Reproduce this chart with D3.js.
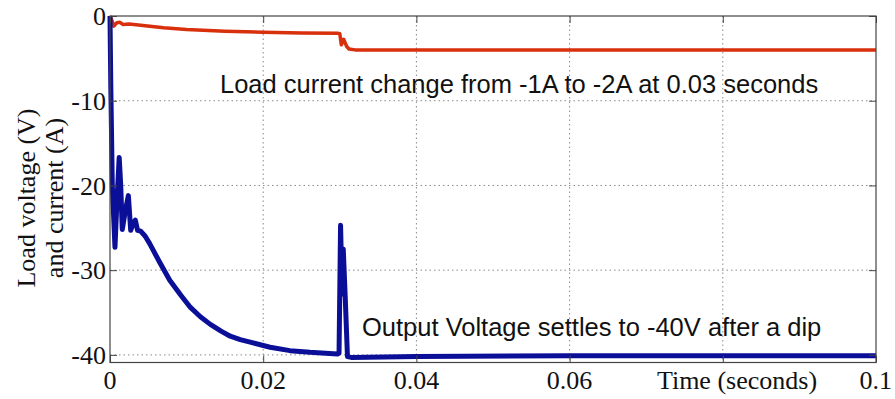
<!DOCTYPE html>
<html>
<head>
<meta charset="utf-8">
<script src="https://cdn.jsdelivr.net/npm/d3@7"></script>
<style>
  html, body { margin: 0; padding: 0; background: #fff; }
  svg { display: block; }
  .grid line { stroke: #8a8a8a; stroke-width: 1; stroke-dasharray: 1.5 3; }
  .tick-label { font-family: "Liberation Serif", "Times New Roman", serif; font-size: 26px; fill: #111; }
  .note { font-family: "Liberation Sans", Arial, sans-serif; font-size: 25.5px; fill: #111; }
</style>
</head>
<body>
<div id="chart"></div>
<script>
// 电压曲线 (V)
var timeV = [0, 0.0001, 0.0003, 0.00065, 0.0009, 0.0012, 0.0014, 0.0016, 0.002, 0.0024,
             0.0027, 0.003, 0.0033, 0.0036, 0.004, 0.0046, 0.0052, 0.0065, 0.0078, 0.0092,
             0.0105, 0.0118, 0.0131, 0.0145, 0.0157, 0.017, 0.0183, 0.0209, 0.0235, 0.0261,
             0.0297, 0.0299, 0.0301, 0.0303, 0.03045, 0.0307, 0.031, 0.0315, 0.04, 0.06, 0.08, 0.1];
var voltage = [0, -8, -20, -27.3, -22, -16.7, -20, -25.2, -23, -21.2,
               -25.3, -24.5, -24.1, -25.3, -25.4, -26, -26.9, -29.1, -31.2, -32.9,
               -34.4, -35.5, -36.4, -37.2, -37.8, -38.2, -38.5, -39.1, -39.5, -39.7,
               -39.9, -39.8, -24.7, -32.8, -27.5, -33, -40.2, -40.3, -40.2, -40.1, -40.1, -40.1];
// 电流曲线 (A)
var timeI = [0, 0.0002, 0.0005, 0.0009, 0.0013, 0.0017, 0.0025, 0.004, 0.007, 0.01,
             0.015, 0.02, 0.025, 0.0298, 0.03, 0.0302, 0.0305, 0.0309, 0.0312, 0.032, 0.1];
var current = [0, -0.4, -1.2, -0.8, -0.75, -1.0, -0.95, -1.1, -1.4, -1.6,
               -1.8, -1.92, -2.0, -2.05, -2.1, -3.4, -2.75, -3.6, -3.9, -4.0, -4.0];

var xTicks = [0, 0.02, 0.04, 0.06, 0.08, 0.1];
var xTickLabels = ['0', '0.02', '0.04', '0.06', '', '0.1'];
var yTicks = [0, -10, -20, -30, -40];
var yTickLabels = ['0', '-10', '-20', '-30', '-40'];
var xTitle = 'Time (seconds)';
var yTitle = ['Load voltage (V)', 'and current (A)'];
var noteCurrent = 'Load current change from -1A to -2A at 0.03 seconds';
var noteVoltage = 'Output Voltage settles to -40V after a dip';

var width = 895, height = 399;
var pLeft = 110, pRight = 876, pTop = 16, pBottom = 362.5;

var svg = d3.select('#chart').append('svg')
    .attr('width', width)
    .attr('height', height);

var x = d3.scaleLinear().domain([0, 0.1]).range([pLeft, pRight]);
var y = d3.scaleLinear().domain([-40.9, 0]).range([pBottom, pTop]);

// 网格
var grid = svg.append('g').classed('grid', true);
grid.selectAll('line.gy')
    .data(yTicks.filter(function(d) { return d !== 0; }))
    .enter().append('line')
    .attr('class', 'gy')
    .attr('x1', pLeft).attr('x2', pRight)
    .attr('y1', function(d) { return y(d); })
    .attr('y2', function(d) { return y(d); });
grid.selectAll('line.gx')
    .data(xTicks.filter(function(d) { return d !== 0 && d !== 0.1; }))
    .enter().append('line')
    .attr('class', 'gx')
    .attr('y1', pTop).attr('y2', pBottom)
    .attr('x1', function(d) { return x(d); })
    .attr('x2', function(d) { return x(d); });

// 曲线
var lineV = d3.line()
    .x(function(d, i) { return x(timeV[i]); })
    .y(function(d) { return y(d); });
var lineI = d3.line()
    .x(function(d, i) { return x(timeI[i]); })
    .y(function(d) { return y(d); });

svg.append('path')
    .datum(current)
    .attr('d', lineI)
    .attr('fill', 'none')
    .attr('stroke', '#d8300c')
    .attr('stroke-width', 3.5)
    .attr('stroke-linejoin', 'round');

svg.append('path')
    .datum(voltage)
    .attr('d', lineV)
    .attr('fill', 'none')
    .attr('stroke', '#0b0f98')
    .attr('stroke-width', 5)
    .attr('stroke-linejoin', 'round');

// 坐标轴 (刻度朝内)
var axisColor = '#444';
function styleAxis(g) {
    g.select('.domain').remove();
    g.selectAll('line').attr('stroke', axisColor);
}
svg.append('g')
    .attr('transform', 'translate(0,' + pBottom + ')')
    .call(d3.axisBottom(x).tickValues(xTicks).tickSize(-7).tickFormat(''))
    .call(styleAxis);
svg.append('g')
    .attr('transform', 'translate(0,' + pTop + ')')
    .call(d3.axisTop(x).tickValues(xTicks).tickSize(-7).tickFormat(''))
    .call(styleAxis);
svg.append('g')
    .attr('transform', 'translate(' + pLeft + ',0)')
    .call(d3.axisLeft(y).tickValues(yTicks).tickSize(-7).tickFormat(''))
    .call(styleAxis);
svg.append('g')
    .attr('transform', 'translate(' + pRight + ',0)')
    .call(d3.axisRight(y).tickValues(yTicks).tickSize(-7).tickFormat(''))
    .call(styleAxis);

svg.append('rect')
    .attr('x', pLeft).attr('y', pTop)
    .attr('width', pRight - pLeft).attr('height', pBottom - pTop)
    .attr('fill', 'none')
    .attr('stroke', axisColor)
    .attr('stroke-width', 1.2);

// 刻度文字
svg.selectAll('text.xl')
    .data(xTicks)
    .enter().append('text')
    .attr('class', 'tick-label xl')
    .attr('x', function(d, i) { return i === xTicks.length - 1 ? 892 : x(d); })
    .attr('y', 389)
    .style('text-anchor', function(d, i) { return i === xTicks.length - 1 ? 'end' : 'middle'; })
    .text(function(d, i) { return xTickLabels[i]; });

svg.selectAll('text.yl')
    .data(yTicks)
    .enter().append('text')
    .attr('class', 'tick-label yl')
    .attr('x', 106)
    .attr('y', function(d) { return y(d); })
    .attr('dy', '0.35em')
    .style('text-anchor', 'end')
    .text(function(d, i) { return yTickLabels[i]; });

svg.append('text')
    .attr('class', 'tick-label')
    .attr('x', 737)
    .attr('y', 389)
    .style('text-anchor', 'middle')
    .text(xTitle);

svg.selectAll('text.yt')
    .data(yTitle)
    .enter().append('text')
    .attr('class', 'tick-label yt')
    .attr('transform', function(d, i) { return 'translate(' + (35 + i * 28) + ',198) rotate(-90)'; })
    .style('text-anchor', 'middle')
    .text(function(d) { return d; });

// 注释
svg.append('text')
    .attr('class', 'note')
    .attr('x', 220)
    .attr('y', 93)
    .text(noteCurrent);
svg.append('text')
    .attr('class', 'note')
    .attr('x', 362)
    .attr('y', 336)
    .text(noteVoltage);
</script>
</body>
</html>
